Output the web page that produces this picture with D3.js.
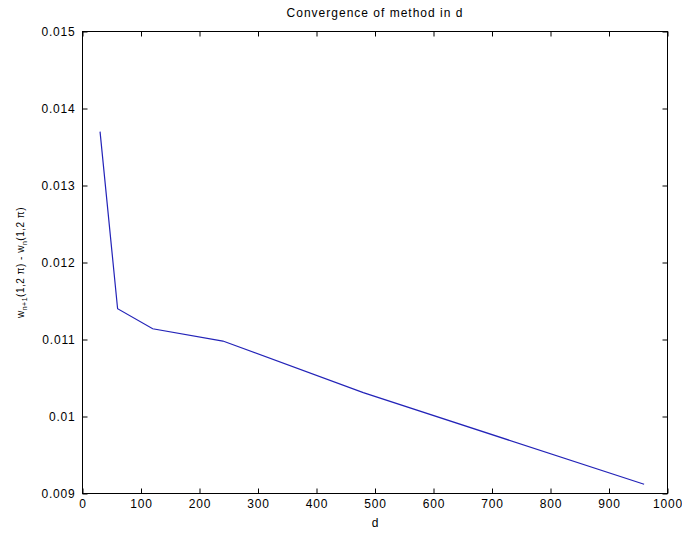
<!DOCTYPE html>
<html>
<head>
<meta charset="utf-8">
<script src="https://cdn.jsdelivr.net/npm/d3@7"></script>
<style>
  body { margin: 0; background: #fff; }
  text { font-family: "Liberation Sans", Arial, sans-serif; fill: #000; }
</style>
</head>
<body>
<svg id="chart"></svg>
<script>
// values
const dValues = [30, 60, 120, 240, 480, 960];
const diffValues = [0.0137, 0.01140, 0.01114, 0.01098, 0.01031, 0.00912];
const xTicks = [0, 100, 200, 300, 400, 500, 600, 700, 800, 900, 1000];
const yTicks = [0.009, 0.01, 0.011, 0.012, 0.013, 0.014, 0.015];

const width = 682, height = 535;
const margin = { top: 31.5, right: 14.5, bottom: 41.5, left: 82.5 };

const svg = d3.select("#chart")
    .attr("width", width)
    .attr("height", height);

const x = d3.scaleLinear().domain([0, 1000]).range([margin.left, width - margin.right]);
const y = d3.scaleLinear().domain([0.009, 0.015]).range([height - margin.bottom, margin.top]);

const tickLen = 5;
const fmt = d => String(d);

// box ticks on all four sides, pointing inward
svg.append("g")
    .attr("transform", `translate(0,${height - margin.bottom})`)
    .call(d3.axisBottom(x).tickValues(xTicks).tickFormat(fmt).tickSizeInner(-tickLen).tickSizeOuter(0).tickPadding(6));
svg.append("g")
    .attr("transform", `translate(0,${margin.top})`)
    .call(d3.axisTop(x).tickValues(xTicks).tickFormat("").tickSizeInner(-tickLen).tickSizeOuter(0));
svg.append("g")
    .attr("transform", `translate(${margin.left},0)`)
    .call(d3.axisLeft(y).tickValues(yTicks).tickFormat(fmt).tickSizeInner(-tickLen).tickSizeOuter(0).tickPadding(7));
svg.append("g")
    .attr("transform", `translate(${width - margin.right},0)`)
    .call(d3.axisRight(y).tickValues(yTicks).tickFormat("").tickSizeInner(-tickLen).tickSizeOuter(0));

svg.selectAll(".domain").remove();
svg.selectAll(".tick line").attr("stroke", "#000");
svg.selectAll(".tick text")
    .style("font-size", "12px")
    .style("letter-spacing", "0.8px")
    .attr("fill", "#000");

svg.append("rect")
    .attr("x", margin.left)
    .attr("y", margin.top)
    .attr("width", width - margin.left - margin.right)
    .attr("height", height - margin.top - margin.bottom)
    .attr("fill", "none")
    .attr("stroke", "#000");

const line = d3.line()
    .x((d, i) => x(dValues[i]))
    .y(d => y(d));

svg.append("path")
    .datum(diffValues)
    .attr("d", line)
    .attr("fill", "none")
    .attr("stroke", "#2323b8")
    .attr("stroke-width", 1.2);

// title and labels
svg.append("text")
    .attr("x", (margin.left + width - margin.right) / 2)
    .attr("y", 17)
    .attr("text-anchor", "middle")
    .style("font-size", "12px")
    .style("letter-spacing", "1px")
    .text("Convergence of method in d");

svg.append("text")
    .attr("x", (margin.left + width - margin.right) / 2)
    .attr("y", 527)
    .attr("text-anchor", "middle")
    .style("font-size", "12px")
    .text("d");

const yl = svg.append("text")
    .attr("transform", `translate(24,${(margin.top + height - margin.bottom) / 2}) rotate(-90)`)
    .attr("text-anchor", "middle")
    .style("font-size", "10px")
    .style("letter-spacing", "0.5px");
yl.append("tspan").text("w");
yl.append("tspan").attr("dy", 3).style("font-size", "7px").text("n+1");
yl.append("tspan").attr("dy", -3).text("(1,2 \u03c0) - w");
yl.append("tspan").attr("dy", 3).style("font-size", "7px").text("n");
yl.append("tspan").attr("dy", -3).text("(1,2 \u03c0)");
</script>
</body>
</html>
